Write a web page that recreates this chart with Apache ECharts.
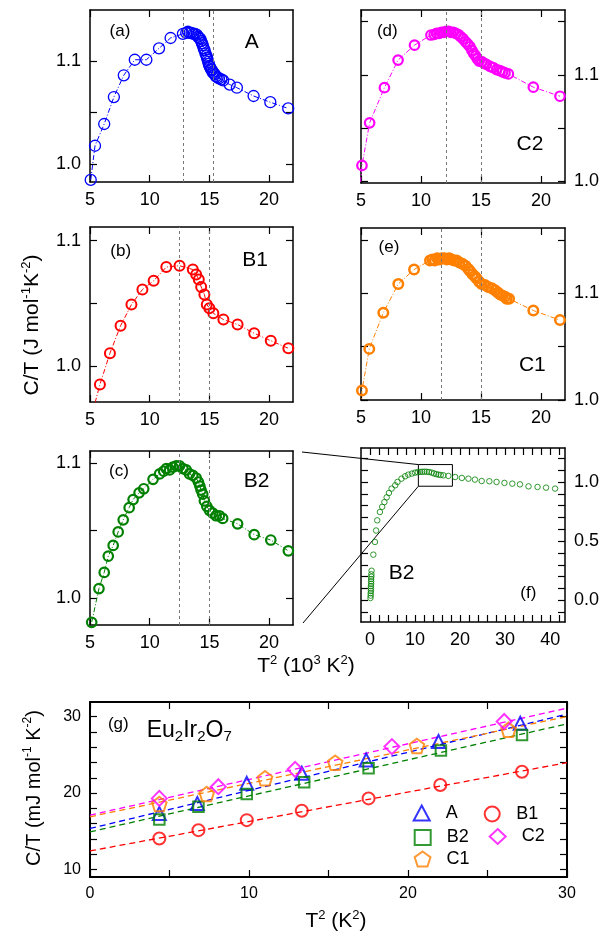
<!DOCTYPE html>
<html>
<head>
<meta charset="utf-8">
<script src="https://cdn.jsdelivr.net/npm/echarts@6/dist/echarts.min.js"></script>
<style>
html, body { margin: 0; padding: 0; background: #fff; }
#chart { width: 610px; height: 938px; }
</style>
</head>
<body>
<div id="chart"></div>
<script>
// ---- data: T^2 (10^3 K^2) vs C/T (J mol-1 K-2) ----
var dataA = [[5.06,0.985],[5.42,1.018],[6.19,1.039],[7.0,1.065],[7.83,1.086],[8.75,1.101],[9.72,1.101],[10.78,1.112],[11.75,1.122],[12.78,1.126],[13.06,1.127],[13.2,1.128],[13.35,1.127],[13.5,1.127],[13.65,1.126],[13.8,1.126],[13.95,1.125],[14.05,1.123],[14.15,1.122],[14.25,1.121],[14.3,1.119],[14.38,1.117],[14.45,1.115],[14.52,1.112],[14.6,1.110],[14.67,1.107],[14.75,1.105],[14.8,1.103],[14.85,1.101],[14.9,1.099],[14.95,1.097],[15.0,1.095],[15.05,1.094],[15.12,1.092],[15.2,1.091],[15.28,1.089],[15.35,1.088],[15.45,1.087],[15.55,1.085],[15.68,1.084],[15.8,1.083],[16.0,1.082],[16.15,1.081],[16.7,1.077],[17.3,1.074],[18.7,1.066],[20.1,1.060],[21.6,1.054]];
var dataB1 = [[5.0,0.955],[5.83,0.985],[6.67,1.010],[7.56,1.032],[8.47,1.049],[9.39,1.061],[10.33,1.068],[11.39,1.079],[12.5,1.080],[13.61,1.077],[13.89,1.073],[14.11,1.069],[14.31,1.063],[14.58,1.057],[14.78,1.049],[15.0,1.046],[15.33,1.042],[16.17,1.037],[17.36,1.033],[18.75,1.026],[20.14,1.020],[21.61,1.014]];
var dataB2 = [[5.0,0.975],[5.14,0.982],[5.75,1.007],[6.19,1.019],[6.53,1.031],[6.94,1.039],[7.36,1.049],[7.78,1.058],[8.28,1.067],[8.61,1.073],[9.11,1.078],[9.5,1.081],[10.28,1.088],[10.83,1.092],[11.17,1.094],[11.39,1.096],[11.67,1.095],[11.94,1.097],[12.22,1.098],[12.5,1.098],[12.78,1.096],[13.06,1.095],[13.33,1.092],[13.61,1.091],[13.89,1.089],[14.08,1.086],[14.2,1.083],[14.3,1.080],[14.44,1.077],[14.58,1.072],[14.78,1.068],[15.0,1.065],[15.28,1.063],[15.56,1.061],[15.83,1.061],[16.11,1.059],[17.36,1.055],[18.75,1.047],[20.14,1.043],[21.61,1.035]];
var dataC2 = [[4.9,0.99],[5.08,1.015],[5.72,1.055],[6.95,1.088],[8.09,1.114],[9.46,1.128],[10.83,1.1375],[11.1,1.138],[11.3,1.139],[11.5,1.139],[11.7,1.140],[11.9,1.140],[12.1,1.141],[12.3,1.141],[12.5,1.140],[12.7,1.140],[12.9,1.139],[13.1,1.138],[13.3,1.136],[13.5,1.134],[13.72,1.131],[13.9,1.129],[14.08,1.1265],[14.25,1.123],[14.4,1.120],[14.55,1.118],[14.7,1.115],[14.85,1.113],[15.06,1.1125],[15.25,1.111],[15.45,1.110],[15.75,1.108],[16.0,1.107],[16.3,1.105],[16.58,1.104],[16.8,1.103],[17.0,1.102],[17.28,1.101],[19.36,1.0885],[21.58,1.080]];
var dataC1 = [[4.9,0.985],[5.08,1.009],[5.69,1.048],[6.86,1.082],[8.11,1.109],[9.42,1.1225],[10.75,1.131],[10.95,1.132],[11.15,1.131],[11.35,1.133],[11.55,1.132],[11.75,1.133],[11.95,1.133],[12.15,1.132],[12.35,1.133],[12.55,1.132],[12.75,1.131],[12.97,1.131],[13.2,1.129],[13.45,1.128],[13.7,1.126],[13.94,1.123],[14.1,1.121],[14.3,1.118],[14.5,1.116],[14.64,1.114],[14.85,1.111],[15.05,1.109],[15.33,1.108],[15.6,1.106],[15.9,1.105],[16.17,1.103],[16.4,1.101],[16.6,1.099],[16.8,1.098],[17.0,1.097],[17.14,1.095],[17.34,1.095],[19.36,1.084],[21.58,1.075]];
var dataF = [[0.1,0.02],[0.15,0.04],[0.15,0.06],[0.2,0.08],[0.2,0.1],[0.2,0.12],[0.25,0.14],[0.25,0.16],[0.25,0.18],[0.3,0.2],[0.3,0.22],[0.35,0.25],[0.74,0.386],[1.1,0.493],[1.35,0.59],[1.6,0.676],[2.2,0.746],[2.7,0.79],[3.2,0.83],[3.7,0.87],[4.2,0.907],[4.8,0.944],[5.6,0.972],[6.1,1.0],[7.0,1.028],[7.8,1.048],[8.5,1.062],[9.3,1.071],[10.0,1.079],[10.6,1.083],[11.1,1.085],[11.6,1.086],[12.1,1.087],[12.6,1.086],[13.1,1.084],[13.7,1.079],[14.2,1.072],[14.7,1.066],[15.2,1.062],[15.7,1.059],[16.3,1.056],[17.4,1.051],[18.9,1.042],[20.4,1.034],[21.85,1.028],[23.3,1.020],[24.8,1.008],[26.5,1.006],[28.1,1.0],[29.85,0.992],[31.6,0.986],[33.3,0.98],[35.2,0.963],[37.2,0.958],[39.1,0.952],[41.1,0.944]];
// dashed guide lines (T^2 positions)
var dashA = [12.78, 15.36];
var dashB1 = [12.5, 15.0];
var dashB2 = [12.5, 15.0];
var dashC2 = [12.14, 15.0];
var dashC1 = [11.72, 15.0];
// zoom box in (f)
var boxF = [[10.74, 0.964], [18.3, 1.147]];

// ---- data: low T, T^2 (K^2) vs C/T (mJ mol-1 K-2) ----
var gA = [[4.36,17.34],[6.75,18.65],[9.86,21.27],[13.32,22.58],[17.37,24.32],[21.92,26.73],[27.06,29.13]];
var gB1 = [[4.36,14.06],[6.82,15.15],[9.86,16.46],[13.32,17.68],[17.52,19.3],[22.03,21.05],[27.17,22.79]];
var gB2 = [[4.36,16.55],[6.82,18.2],[9.86,19.87],[13.47,21.4],[17.52,23.24],[22.07,25.55],[27.17,27.6]];
var gC1 = [[4.36,18.56],[7.34,19.87],[11.01,21.93],[15.42,23.97],[20.56,26.16],[26.32,28.26]];
var gC2 = [[4.36,19.3],[8.07,20.83],[12.9,23.1],[18.99,26.07],[26.05,29.35]];
var fitA = [[0,15.37],[30,30.31]];
var fitB1 = [[0,12.44],[30,23.97]];
var fitB2 = [[0,14.93],[30,29.04]];
var fitC1 = [[0,16.9],[30,30.0]];
var fitC2 = [[0,17.12],[30,31.1]];

// ---- ticks / labels ----
var tickX = [5, 10, 15, 20];
var tickYlo = [1.0, 1.05, 1.1];
var tickYhi = [1.0, 1.05, 1.1, 1.15];
var labY = [1.0, 1.1];
var tickFx = [0,2,4,6,8,10,12,14,16,18,20,22,24,26,28,30,32,34,36,38,40,42];
var labFx = [0, 10, 20, 30, 40];
var tickFy = [-0.1,0,0.1,0.2,0.3,0.4,0.5,0.6,0.7,0.8,0.9,1.0,1.1,1.2];
var labFy = [0, 0.5, 1.0];
var tickGx = [0, 5, 10, 15, 20, 25, 30];
var labGx = [0, 10, 20, 30];
var tickGy = [10,12,14,16,18,20,22,24,26,28,30];
var labGy = [10, 20, 30];

var FONT = "'Liberation Sans', Arial, sans-serif";
var BLUE = "#0000ff", RED = "#ff0000", GREEN = "#008000", MAG = "#ff00ff", ORANGE = "#ff8000";
var PENTAGON = "path://M0,-10L9.51,-3.09L5.88,8.09L-5.88,8.09L-9.51,-3.09Z";

var fmt1 = function (v) { return v.toFixed(1); };
var fmt0 = function (v) { return String(v); };

var panels = [
    { rect: [90, 10, 203, 172], xr: [5, 22], yr: [0.983, 1.149], xt: tickX, xl: tickX, yt: tickYlo, yl: labY, ySide: "left", frame: 1.5, font: 18, yf: fmt1 },
    { rect: [90, 227, 203, 175], xr: [5, 22], yr: [0.971, 1.111], xt: tickX, xl: tickX, yt: tickYlo, yl: labY, ySide: "left", frame: 1.5, font: 18, yf: fmt1 },
    { rect: [90, 451, 203, 174], xr: [5, 22], yr: [0.980, 1.109], xt: tickX, xl: tickX, yt: tickYlo, yl: labY, ySide: "left", frame: 1.5, font: 18, yf: fmt1 },
    { rect: [361, 10, 204, 173], xr: [5, 22], yr: [0.9985, 1.161], xt: tickX, xl: tickX, yt: tickYhi, yl: labY, ySide: "right", frame: 1.5, font: 18, yf: fmt1 },
    { rect: [361, 228, 204, 172], xr: [5, 22], yr: [1.0, 1.1615], xt: tickX, xl: tickX, yt: tickYhi, yl: labY, ySide: "right", frame: 1.5, font: 18, yf: fmt1 },
    { rect: [361, 448, 204, 174], xr: [-2, 43.3], yr: [-0.183, 1.287], xt: tickFx, xl: labFx, yt: tickFy, yl: labFy, ySide: "right", frame: 1.5, font: 18, yf: fmt1 },
    { rect: [90, 702, 477, 175], xr: [0, 30], yr: [9.03, 31.9], xt: tickGx, xl: labGx, yt: tickGy, yl: labGy, ySide: "left", frame: 2, font: 16, yf: fmt0 }
];

var grids = [], xAxes = [], yAxes = [];

function makeAxis(i, p, dim, pos, labels) {
    var isX = dim === "x";
    return {
        gridIndex: i,
        type: "value",
        position: pos,
        min: isX ? p.xr[0] : p.yr[0],
        max: isX ? p.xr[1] : p.yr[1],
        axisLine: { show: true, onZero: false, lineStyle: { color: "#000", width: p.frame } },
        axisTick: { show: true, inside: true, length: 7, customValues: isX ? p.xt : p.yt, lineStyle: { color: "#000", width: 1.2 } },
        axisLabel: labels ? {
            show: true, customValues: labels, margin: isX ? 9 : 9,
            color: "#000", fontSize: p.font, fontFamily: FONT,
            formatter: isX ? fmt0 : p.yf
        } : { show: false },
        splitLine: { show: false }
    };
}

panels.forEach(function (p, i) {
    grids.push({ left: p.rect[0], top: p.rect[1], width: p.rect[2], height: p.rect[3], containLabel: false });
    xAxes.push(makeAxis(i, p, "x", "bottom", p.xl));
    xAxes.push(makeAxis(i, p, "x", "top", null));
    var ySideOther = p.ySide === "left" ? "right" : "left";
    yAxes.push(makeAxis(i, p, "y", p.ySide, p.yl));
    yAxes.push(makeAxis(i, p, "y", ySideOther, null));
});

function dashLines(vals) {
    return {
        silent: true, symbol: "none", animation: false,
        label: { show: false },
        lineStyle: { color: "#777", width: 1, type: [3, 3] },
        data: vals.map(function (v) { return { xAxis: v }; })
    };
}

function curve(i, name, data, color, size, bw, dash) {
    return {
        type: "line", name: name, xAxisIndex: i * 2, yAxisIndex: i * 2,
        data: data, symbol: "circle", symbolSize: size,
        itemStyle: { color: "rgba(0,0,0,0)", borderColor: color, borderWidth: bw },
        lineStyle: { color: color, width: 1, type: [5, 2, 1, 2] },
        emphasis: { disabled: true },
        markLine: dashLines(dash),
        animation: false, z: 3
    };
}

function lowT(name, data, color, symbol, size) {
    return {
        type: "scatter", name: name, xAxisIndex: 12, yAxisIndex: 12,
        data: data, symbol: symbol, symbolSize: size,
        itemStyle: { color: "rgba(0,0,0,0)", borderColor: color, borderWidth: 2 },
        emphasis: { disabled: true }, animation: false, z: 4
    };
}

function fitLine(data, color) {
    return {
        type: "line", xAxisIndex: 12, yAxisIndex: 12, data: data,
        showSymbol: false, symbol: "none",
        lineStyle: { color: color, width: 1.3, type: [6, 4] },
        emphasis: { disabled: true }, animation: false, silent: true, z: 2
    };
}

var series = [
    curve(0, "pA", dataA, BLUE, 11, 1.3, dashA),
    curve(1, "pB1", dataB1, RED, 10, 2, dashB1),
    curve(2, "pB2", dataB2, GREEN, 9.5, 2.2, dashB2),
    curve(3, "pC2", dataC2, MAG, 9.5, 2.2, dashC2),
    curve(4, "pC1", dataC1, ORANGE, 9.5, 2.5, dashC1),
    {
        type: "scatter", name: "pF", xAxisIndex: 10, yAxisIndex: 10,
        data: dataF, symbol: "circle", symbolSize: 5.5,
        itemStyle: { color: "rgba(0,0,0,0)", borderColor: GREEN, borderWidth: 1 },
        emphasis: { disabled: true }, animation: false,
        markArea: {
            silent: true,
            itemStyle: { color: "rgba(0,0,0,0)", borderColor: "#000", borderWidth: 1 },
            data: [[{ coord: boxF[0] }, { coord: boxF[1] }]]
        }
    },
    fitLine(fitA, BLUE), fitLine(fitB1, RED), fitLine(fitB2, GREEN), fitLine(fitC1, ORANGE), fitLine(fitC2, MAG),
    lowT("A", gA, BLUE, "triangle", 13),
    lowT("B1", gB1, RED, "circle", 12),
    lowT("B2", gB2, GREEN, "rect", 10.5),
    lowT("C1", gC1, ORANGE, PENTAGON, 14.5),
    lowT("C2", gC2, MAG, "diamond", 15)
];

var legendPos = [
    { name: "A", left: 412.7, top: 804 },
    { name: "B1", left: 483.7, top: 805 },
    { name: "B2", left: 413.7, top: 828.5 },
    { name: "C2", left: 488.7, top: 827.5 },
    { name: "C1", left: 413.7, top: 850 }
];
var legends = legendPos.map(function (l) {
    return {
        data: [l.name], left: l.left, top: l.top, padding: 0,
        itemWidth: 16, itemHeight: 15, selectedMode: false,
        textStyle: { color: "#000", fontSize: 18, fontFamily: FONT, padding: [0, 0, 0, 11] }
    };
});

function txt(id, s, x, y, size, align) {
    return {
        type: "text", id: id, x: x, y: y, silent: true,
        style: { text: s, fontSize: size, fontFamily: FONT, fill: "#000", align: align || "center", verticalAlign: "middle" }
    };
}
function richTxt(id, s, x, y, size, rot, align) {
    return {
        type: "text", id: id, x: x, y: y, rotation: rot || 0, silent: true,
        style: {
            text: s, fontSize: size, fontFamily: FONT, fill: "#000",
            align: align || "center", verticalAlign: "middle",
            rich: {
                n: { fontSize: size, fontFamily: FONT, fill: "#000" },
                sup: { fontSize: Math.round(size * 0.62), fontFamily: FONT, fill: "#000", padding: [0, 0, 12, 0] },
                sub: { fontSize: Math.round(size * 0.65), fontFamily: FONT, fill: "#000", padding: [11, 0, 0, 0] }
            }
        }
    };
}

var graphics = [
    txt("la", "(a)", 120, 31.7, 17),
    txt("lb", "(b)", 120.7, 251.7, 17),
    txt("lc", "(c)", 119, 471.7, 17),
    txt("ld", "(d)", 387.3, 31, 17),
    txt("le", "(e)", 389, 247.3, 17),
    txt("lf", "(f)", 528.3, 593.3, 17),
    txt("lg", "(g)", 118.3, 724, 17),
    txt("sA", "A", 251.7, 42.7, 21),
    txt("sB1", "B1", 255, 260.7, 21),
    txt("sB2", "B2", 256.7, 481.7, 21),
    txt("sC2", "C2", 530, 144, 21),
    txt("sC1", "C1", 532.3, 365, 21),
    txt("sB2f", "B2", 401.7, 573.3, 21),
    richTxt("eu", "{n|Eu}{sub|2}{n|Ir}{sub|2}{n|O}{sub|7}", 146.7, 731, 23, 0, "left"),
    richTxt("ytop", "{n|C/T (J mol}{sup|-1}{n|K}{sup|-2}{n|)}", 32, 325, 21, Math.PI / 2),
    richTxt("ybot", "{n|C/T (mJ mol}{sup|-1}{n| K}{sup|-2}{n|)}", 34, 788, 20, Math.PI / 2),
    richTxt("xtop", "{n|T}{sup|2}{n| (10}{sup|3}{n| K}{sup|2}{n|)}", 306, 666, 21, 0),
    richTxt("xbot", "{n|T}{sup|2}{n| (K}{sup|2}{n|)}", 336, 921, 21, 0)
];

var chart = echarts.init(document.getElementById("chart"), null, { renderer: "canvas" });
chart.setOption({
    animation: false,
    backgroundColor: "#fff",
    grid: grids,
    xAxis: xAxes,
    yAxis: yAxes,
    legend: legends,
    series: series,
    graphic: { elements: graphics }
});

// connector lines from panel (c) to the box in (f)
var cTop = chart.convertToPixel({ gridIndex: 2 }, [panels[2].xr[1], panels[2].yr[1]]);
var cBot = chart.convertToPixel({ gridIndex: 2 }, [panels[2].xr[1], panels[2].yr[0]]);
var bTL = chart.convertToPixel({ gridIndex: 5 }, [boxF[0][0], boxF[1][1]]);
var bBL = chart.convertToPixel({ gridIndex: 5 }, [boxF[0][0], boxF[0][1]]);
chart.setOption({
    graphic: {
        elements: [
            { type: "line", id: "conTop", silent: true, shape: { x1: cTop[0] + 9, y1: cTop[1] + 1, x2: bTL[0], y2: bTL[1] }, style: { stroke: "#000", lineWidth: 1 } },
            { type: "line", id: "conBot", silent: true, shape: { x1: cBot[0] + 10, y1: cBot[1] - 2, x2: bBL[0], y2: bBL[1] }, style: { stroke: "#000", lineWidth: 1 } }
        ]
    }
});
</script>
</body>
</html>
